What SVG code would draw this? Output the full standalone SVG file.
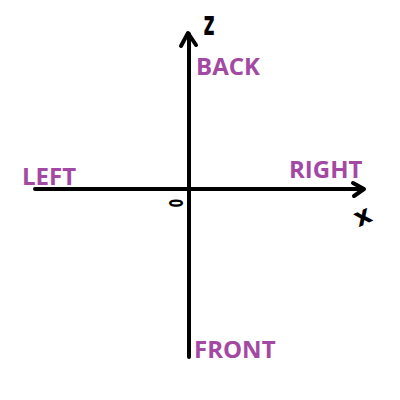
<svg xmlns="http://www.w3.org/2000/svg" width="400" height="400" viewBox="0 0 400 400">
<style>
.axis{stroke:#000;stroke-width:4;stroke-linecap:round;fill:none;stroke-linejoin:round}
.lbl{font-family:"Open Sans","DejaVu Sans",sans-serif;font-weight:bold;font-size:24px;fill:#a349a4}
.hand{font-family:"DejaVu Sans",sans-serif;fill:#000;font-weight:bold}
</style>
<rect width="400" height="400" fill="#fff"/>
<g id="connectors">
<path class="axis" d="M189,357 L189,34"/>
<path class="axis" d="M181,46 L188,33 L196,45"/>
<path class="axis" d="M35,189 L363,189"/>
<path class="axis" d="M353,183 L364,189 L354,196"/>
</g>
<g id="back"><text class="lbl" x="196" y="75">BACK</text></g>
<g id="right"><text class="lbl" x="289" y="178">RIGHT</text></g>
<g id="left"><text class="lbl" x="22" y="185">LEFT</text></g>
<g id="front"><text class="lbl" x="194" y="358">FRONT</text></g>
<g id="z"><text class="hand" font-size="24" transform="translate(209,35) scale(0.8,1.4)" text-anchor="middle">z</text></g>
<g id="x"><text class="hand" font-size="26" transform="translate(366,224) rotate(-25)" text-anchor="middle">x</text></g>
<g id="origin"><text class="hand" font-size="20" transform="translate(183,203) rotate(-90) scale(0.6,1)" text-anchor="middle">0</text></g>
</svg>
